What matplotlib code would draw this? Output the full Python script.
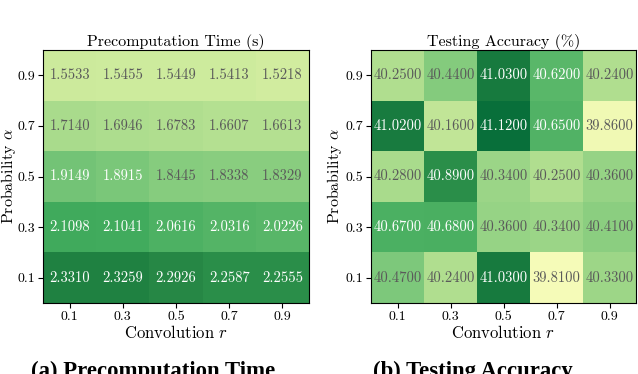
import numpy as np
import matplotlib
matplotlib.use("Agg")
import matplotlib.pyplot as plt
from matplotlib.colors import LinearSegmentedColormap

plt.rcParams['font.family'] = 'serif'
plt.rcParams['font.serif'] = ['cmr10']
plt.rcParams['mathtext.fontset'] = 'cm'
plt.rcParams['axes.formatter.use_mathtext'] = True

r_labels = ["0.1", "0.3", "0.5", "0.7", "0.9"]
alpha_labels = ["0.1", "0.3", "0.5", "0.7", "0.9"]

# rows: alpha 0.1 .. 0.9 ; cols: r 0.1 .. 0.9
precomp_time = np.array([
    [2.3310, 2.3259, 2.2926, 2.2587, 2.2555],
    [2.1098, 2.1041, 2.0616, 2.0316, 2.0226],
    [1.9149, 1.8915, 1.8445, 1.8338, 1.8329],
    [1.7140, 1.6946, 1.6783, 1.6607, 1.6613],
    [1.5533, 1.5455, 1.5449, 1.5413, 1.5218],
])
test_acc = np.array([
    [40.47, 40.24, 41.03, 39.81, 40.33],
    [40.67, 40.68, 40.36, 40.34, 40.41],
    [40.28, 40.89, 40.34, 40.25, 40.36],
    [41.02, 40.16, 41.12, 40.65, 39.86],
    [40.25, 40.44, 41.03, 40.62, 40.24],
])

titles = ["Precomputation Time (s)", "Testing Accuracy (%)"]
captions = ["(a) Precomputation Time", "(b) Testing Accuracy"]


def trunc_cmap(lo, hi):
    base = plt.get_cmap("YlGn")
    return LinearSegmentedColormap.from_list("t", base(np.linspace(lo, hi, 256)))


fig = plt.figure(figsize=(6.38, 3.74), dpi=100)
axes_pos = [[43 / 638, 71 / 374, 266 / 638, 253 / 374],
            [371 / 638, 71 / 374, 265 / 638, 253 / 374]]
ylabel_x = [-0.093, -0.102]
cmaps = [trunc_cmap(0.27, 0.76), trunc_cmap(0.13, 0.84)]
thresholds = [1.87, 40.55]
fmts = ["{:.4f}", "{:.4f}"]
caption_x = [153 / 638, 473 / 638]

for i, data in enumerate([precomp_time, test_acc]):
    ax = fig.add_axes(axes_pos[i])
    ax.imshow(data, cmap=cmaps[i], origin='lower', aspect='auto',
              extent=(-0.5, 4.5, -0.5, 4.5), interpolation='nearest')
    for rr in range(data.shape[0]):
        for cc in range(data.shape[1]):
            v = data[rr, cc]
            col = 'white' if v > thresholds[i] else '#5a5a5a'
            ax.text(cc, rr, fmts[i].format(v), ha='center', va='center',
                    fontsize=10.5, color=col)
    ax.set_xticks(range(5))
    ax.set_xticklabels(r_labels)
    ax.set_yticks(range(5))
    ax.set_yticklabels(alpha_labels)
    ax.tick_params(labelsize=10, length=3.5, width=0.8, pad=2)
    ax.set_xlabel(r"Convolution $r$", fontsize=12, labelpad=1)
    ax.set_ylabel(r"Probability $\alpha$", fontsize=11.5)
    ax.yaxis.set_label_coords(ylabel_x[i], 0.5)
    ax.set_title(titles[i], fontsize=11.5, pad=3)
    fig.text(caption_x[i], 1 - 361 / 374, captions[i],
             ha='center', va='top', fontsize=16.4, fontweight='bold',
             family='Liberation Serif')

fig.savefig("out.png", dpi=100)
